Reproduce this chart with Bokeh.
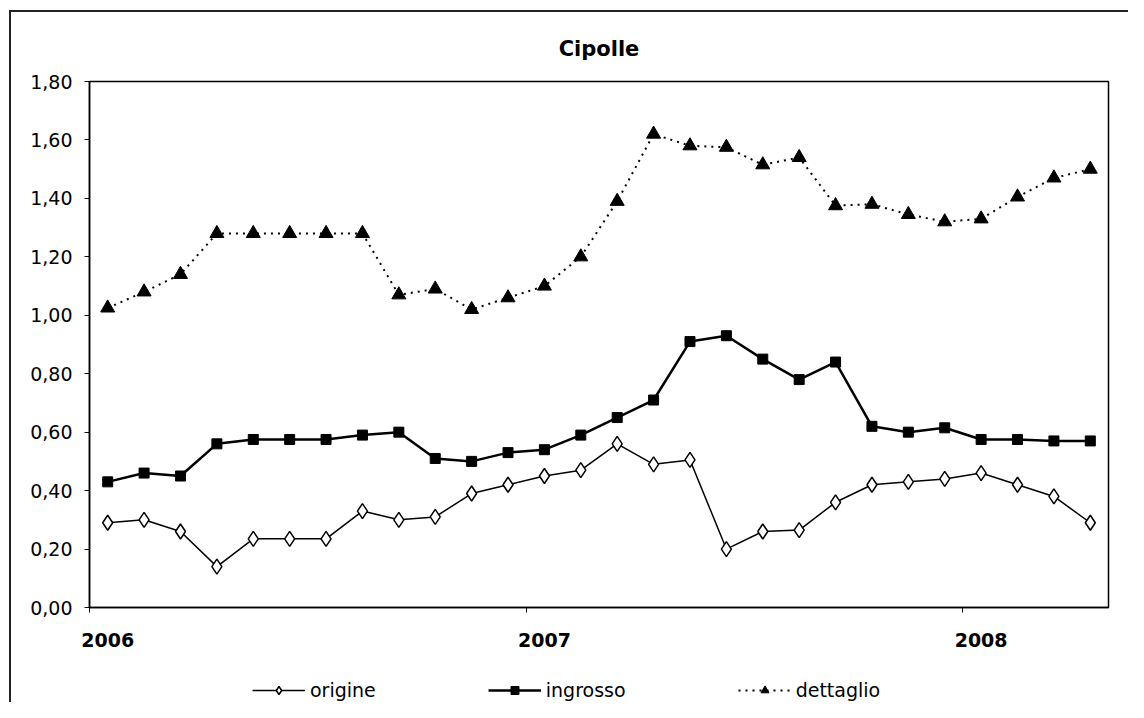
from bokeh.plotting import figure
from bokeh.layouts import column
from bokeh.models import Range1d, FixedTicker, Legend, LegendItem, Title, ColumnDataSource
from bokeh.embed import file_html
from bokeh.resources import INLINE

# ---- data (monthly, Jan 2006 - Apr 2008), euro/kg ----
months = list(range(28))
origine = [0.29, 0.30, 0.26, 0.14, 0.235, 0.235, 0.235, 0.33, 0.30, 0.31,
           0.39, 0.42, 0.45, 0.47, 0.56, 0.49, 0.505, 0.20, 0.26, 0.265,
           0.36, 0.42, 0.43, 0.44, 0.46, 0.42, 0.38, 0.29]
ingrosso = [0.43, 0.46, 0.45, 0.56, 0.575, 0.575, 0.575, 0.59, 0.60, 0.51,
            0.50, 0.53, 0.54, 0.59, 0.65, 0.71, 0.91, 0.93, 0.85, 0.78,
            0.84, 0.62, 0.60, 0.615, 0.575, 0.575, 0.57, 0.57]
dettaglio = [1.025, 1.08, 1.14, 1.28, 1.28, 1.28, 1.28, 1.28, 1.07, 1.09,
             1.02, 1.06, 1.10, 1.20, 1.39, 1.62, 1.58, 1.575, 1.515, 1.54,
             1.375, 1.38, 1.345, 1.32, 1.33, 1.405, 1.47, 1.50]
series_names = ["origine", "ingrosso", "dettaglio"]
year_labels = ["2006", "2007", "2008"]
year_start_months = [0, 12, 24]
y_ticks = [0.0, 0.2, 0.4, 0.6, 0.8, 1.0, 1.2, 1.4, 1.6, 1.8]

FONT = "DejaVu Sans"

src = ColumnDataSource(dict(
    x=[m + 0.5 for m in months],
    origine=origine, ingrosso=ingrosso, dettaglio=dettaglio))

LINE = "linear-gradient(#222, #222)"
main_bg = (f"{LINE} 9px 10px / 2px 100% no-repeat, "
           f"{LINE} 9px 10px / 100% 2px no-repeat, white")
leg_bg = f"{LINE} 9px 0px / 2px 100% no-repeat, white"

p = figure(width=1128, height=655, output_backend="svg", toolbar_location=None,
           x_range=Range1d(0, len(months)), y_range=Range1d(0, 1.8),
           min_border_left=89, min_border_right=20, min_border_top=81,
           min_border_bottom=48,
           styles={"background": main_bg})

p.title = Title(text="Cipolle", align="center", text_font=FONT,
                text_font_size="21px", text_font_style="bold",
                text_color="black", standoff=42)

p.xgrid.visible = False
p.ygrid.visible = False
p.outline_line_color = "black"
p.outline_line_width = 1.5
p.background_fill_color = "white"
p.border_fill_alpha = 0

# x axis: labels at month 0.5 of year, ticks at year start
xa = p.xaxis[0]
xa.ticker = FixedTicker(ticks=[m + 0.5 for m in year_start_months],
                        minor_ticks=year_start_months)
xa.major_label_overrides = {m + 0.5: lab for m, lab in zip(year_start_months, year_labels)}
xa.major_tick_out = 0
xa.major_tick_in = 0
xa.minor_tick_out = 5
xa.minor_tick_in = 0
xa.minor_tick_line_color = "black"
xa.major_label_standoff = 20
xa.major_label_text_font = FONT
xa.major_label_text_font_size = "19px"
xa.major_label_text_font_style = "bold"
xa.major_label_text_color = "black"
xa.axis_line_color = "black"
xa.axis_line_width = 1.5

ya = p.yaxis[0]
ya.ticker = FixedTicker(ticks=y_ticks, minor_ticks=[])
ya.major_label_overrides = {t: f"{t:.2f}".replace(".", ",") for t in y_ticks}
ya.major_tick_out = 5
ya.major_tick_in = 0
ya.major_tick_line_color = "black"
ya.minor_tick_line_color = None
ya.major_label_standoff = 12
ya.major_label_text_font = FONT
ya.major_label_text_font_size = "19px"
ya.major_label_text_color = "black"
ya.axis_line_color = "black"
ya.axis_line_width = 1.5

STYLES = {
    "origine": dict(line=dict(line_width=1.5),
                    marker=dict(marker="diamond", size=15, fill_color="white", line_width=1.5)),
    "ingrosso": dict(line=dict(line_width=2.5),
                     marker=dict(marker="square", size=10, fill_color="black")),
    "dettaglio": dict(line=dict(line_width=2, line_dash="2 5"),
                      marker=dict(marker="triangle", size=14, fill_color="black")),
}


def draw(fig):
    out = {}
    for name in series_names:
        st = STYLES[name]
        ln = fig.line("x", name, source=src, line_color="black", **st["line"])
        mk = fig.scatter("x", name, source=src, line_color="black", **st["marker"])
        out[name] = [ln, mk]
    return out


draw(p)

# legend strip below the chart (own figure so the legend is not clipped)
lf = figure(width=1128, height=47, output_backend="svg", toolbar_location=None,
            x_range=Range1d(1000, 1001), y_range=Range1d(1000, 1001),
            x_axis_type=None, y_axis_type=None,
            min_border_left=0, min_border_right=0, min_border_top=0,
            min_border_bottom=0, styles={"background": leg_bg})
lf.xgrid.visible = False
lf.ygrid.visible = False
lf.outline_line_color = None
lf.background_fill_alpha = 0
lf.border_fill_alpha = 0
lrs = draw(lf)

legend = Legend(items=[LegendItem(label=n, renderers=lrs[n]) for n in series_names],
                orientation="horizontal", location=(163, 1),
                glyph_width=53, glyph_height=20, label_standoff=5, spacing=112,
                padding=0, margin=0, border_line_color=None,
                background_fill_alpha=0,
                label_text_font=FONT, label_text_font_size="19px",
                label_text_color="black")
lf.add_layout(legend, "center")

layout = column(p, lf, spacing=0)
open("out.html", "w").write(file_html(layout, INLINE))
